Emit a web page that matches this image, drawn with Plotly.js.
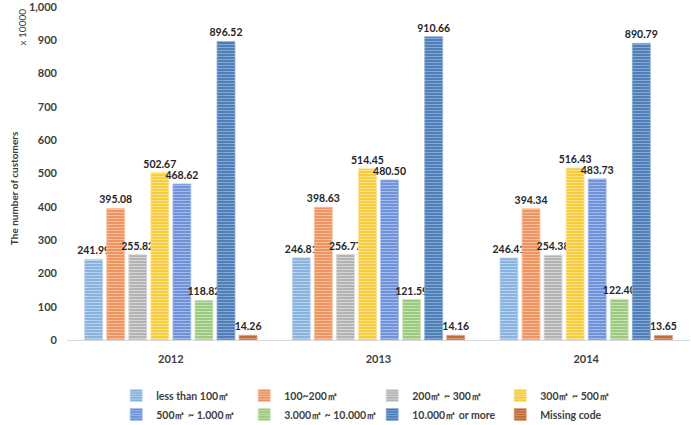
<!DOCTYPE html>
<html>
<head>
<meta charset="utf-8">
<script src="https://cdn.plot.ly/plotly-3.0.1.min.js"></script>
<style>
  html, body { margin: 0; padding: 0; background: #ffffff; }
  #chart { width: 691px; height: 425px; }
</style>
</head>
<body>
<div id="chart"></div>
<script>
// Years on the category axis
const years = ['2012', '2013', '2014'];

// Number of customers (x 10000) by floor-area band
const lessThan100 = [241.99, 246.81, 246.41];
const from100to200 = [395.08, 398.63, 394.34];
const from200to300 = [255.82, 256.77, 254.38];
const from300to500 = [502.67, 514.45, 516.43];
const from500to1000 = [468.62, 480.50, 483.73];
const from3000to10000 = [118.82, 121.59, 122.40];
const over10000 = [896.52, 910.66, 890.79];
const missingCode = [14.26, 14.16, 13.65];

const seriesNames = [
  'less than 100㎡', '100~200㎡', '200㎡ ~ 300㎡', '300㎡ ~ 500㎡',
  '500㎡ ~ 1.000㎡', '3.000㎡ ~ 10.000㎡', '10.000㎡ or more', 'Missing code'
];
const seriesValues = [
  lessThan100, from100to200, from200to300, from300to500,
  from500to1000, from3000to10000, over10000, missingCode
];

// base fill and lighter stripe colour per series
const baseColors = ['#88b3df', '#ee9460', '#b3b3b3', '#f7cb3e', '#6e93d6', '#9cc980', '#4f7fb8', '#bd6c3d'];
const stripeColors = ['#b9d3ee', '#f8bf9c', '#d6d6d6', '#fde28e', '#a3baea', '#c6e2b4', '#88a9d2', '#d89a74'];

const font = 'Lato, "Open Sans", "DejaVu Sans", sans-serif';

const traces = seriesNames.map((name, i) => ({
  type: 'bar',
  name: name,
  x: years,
  y: seriesValues[i],
  texttemplate: '<b>%{y:.2f}</b>',
  textposition: 'outside',
  constraintext: 'none',
  cliponaxis: false,
  textfont: { family: font, size: 10.5, color: '#262626' },
  marker: {
    color: baseColors[i],
    line: { color: stripeColors[i], width: 0.8 },
    pattern: {
      shape: '-',
      fillmode: 'replace',
      bgcolor: baseColors[i],
      fgcolor: stripeColors[i],
      size: 3,
      solidity: 0.35
    }
  },
  hoverinfo: 'x+y+name'
}));

const layout = {
  width: 691,
  height: 425,
  margin: { l: 66.5, r: 1, t: 7, b: 85 },
  paper_bgcolor: '#ffffff',
  plot_bgcolor: '#ffffff',
  barmode: 'group',
  bargap: 0.15,
  bargroupgap: 0.19,
  showlegend: true,
  font: { family: font, color: '#404040' },
  xaxis: {
    type: 'category',
    showgrid: false,
    showline: true,
    linecolor: '#d9d9d9',
    linewidth: 1,
    ticks: '',
    ticklabelstandoff: 9,
    automargin: false,
    tickfont: { family: font, size: 11, color: '#404040', weight: 'bold' },
    zeroline: false
  },
  yaxis: {
    range: [0, 1000],
    dtick: 100,
    tick0: 0,
    showgrid: false,
    showline: false,
    zeroline: false,
    ticks: '',
    tickformat: ',d',
    ticklabelstandoff: 9,
    ticklabeloverflow: 'allow',
    automargin: false,
    tickfont: { family: font, size: 11, color: '#404040', weight: 'bold' }
  },
  legend: {
    orientation: 'h',
    xref: 'paper',
    x: 0.079,
    xanchor: 'left',
    yref: 'container',
    y: 0.1035,
    yanchor: 'top',
    entrywidth: 83,
    entrywidthmode: 'pixels',
    itemwidth: 30,
    tracegroupgap: 0,
    font: { family: font, size: 10.5, color: '#404040', weight: 'bold' }
  },
  annotations: [
    {
      text: '<b>The number of customers</b>',
      xref: 'paper', yref: 'paper',
      x: -0.084, y: 0.455,
      xanchor: 'center', yanchor: 'middle',
      textangle: -90,
      showarrow: false,
      font: { family: font, size: 10, color: '#404040' }
    },
    {
      text: 'x 10000',
      xref: 'paper', yref: 'paper',
      x: -0.073, y: 0.94,
      xanchor: 'center', yanchor: 'middle',
      textangle: -90,
      showarrow: false,
      font: { family: font, size: 10, color: '#404040' }
    }
  ]
};

Plotly.newPlot('chart', traces, layout, { displayModeBar: false, responsive: false });
</script>
</body>
</html>
